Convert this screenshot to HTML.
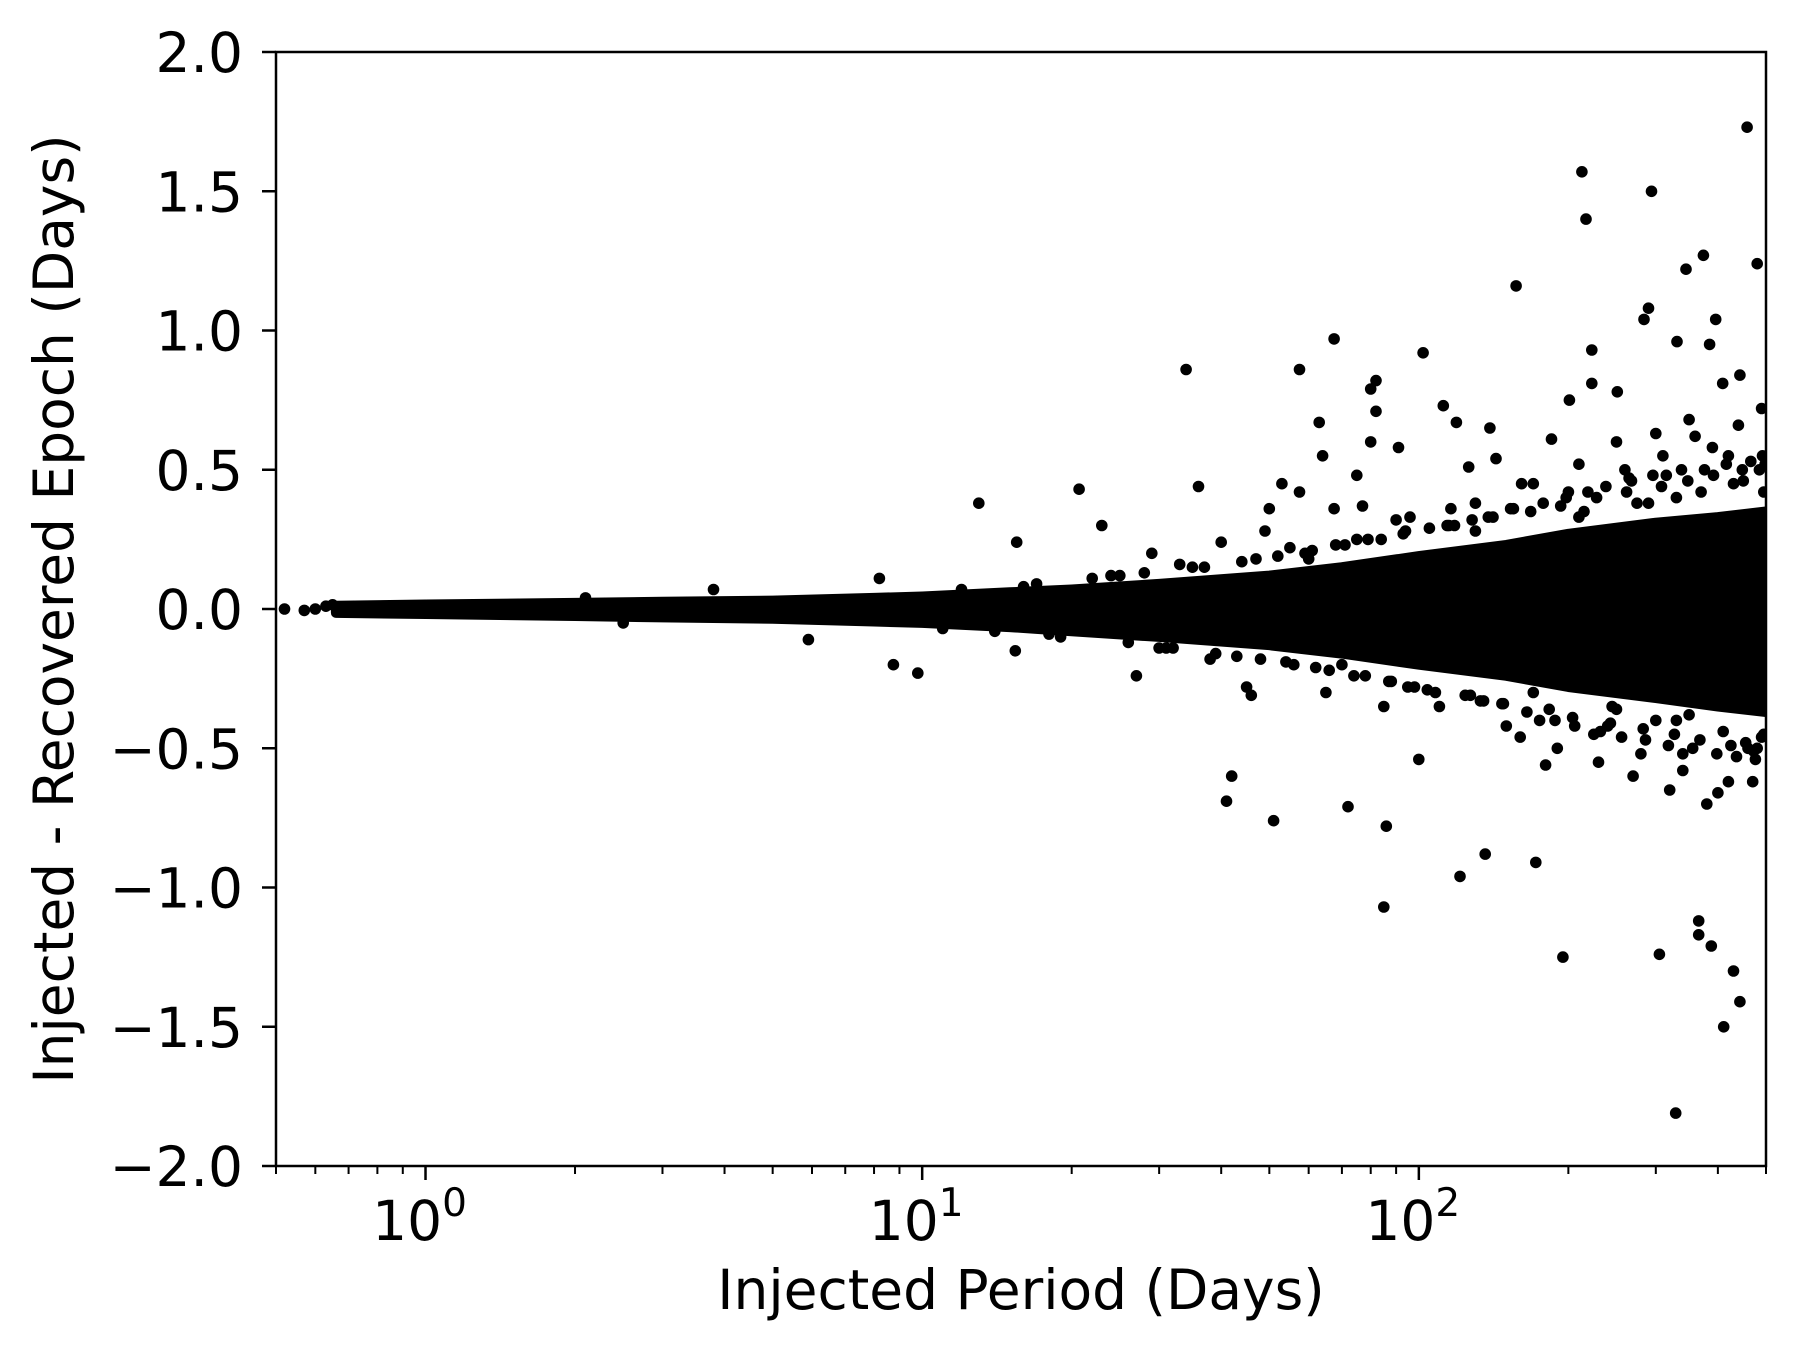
<!DOCTYPE html>
<html><head><meta charset="utf-8">
<style>
html,body{margin:0;padding:0;background:#fff;}
svg{display:block;font-family:"DejaVu Sans","Liberation Sans",sans-serif;}
</style></head>
<body>
<svg id="chart" width="1795" height="1352" viewBox="0 0 1795 1352" xmlns="http://www.w3.org/2000/svg">
<defs><clipPath id="clip"><rect x="276" y="52" width="1490" height="1114"/></clipPath></defs>
<rect width="1795" height="1352" fill="#fff"/>
<g id="band" clip-path="url(#clip)"></g>
<g id="pts" clip-path="url(#clip)"></g>
<g id="axes"></g>
<text x="1021" y="1309" font-size="55" text-anchor="middle">Injected Period (Days)</text>
<text transform="translate(73,609) rotate(-90)" font-size="55" text-anchor="middle">Injected - Recovered Epoch (Days)</text>
</svg>
<script>
const xTicks = [1, 10, 100];
const xTickExp = ["0", "1", "2"];
const yTicks = [2.0, 1.5, 1.0, 0.5, 0.0, -0.5, -1.0, -1.5, -2.0];
const yTickLabels = ["2.0", "1.5", "1.0", "0.5", "0.0", "\u22120.5", "\u22121.0", "\u22121.5", "\u22122.0"];
const bandP = [0.66, 1, 2, 3, 5, 8, 10, 15, 20, 30, 50, 70, 100, 150, 200, 300, 400, 500];
const bandUpper = [0.012, 0.016, 0.022, 0.026, 0.03, 0.04, 0.045, 0.06, 0.07, 0.09, 0.12, 0.15, 0.19, 0.23, 0.27, 0.31, 0.33, 0.35];
const bandLower = [-0.014, -0.018, -0.025, -0.03, -0.035, -0.045, -0.05, -0.065, -0.08, -0.1, -0.13, -0.16, -0.2, -0.24, -0.28, -0.32, -0.35, -0.37];
const ptP = [0.52,0.57,0.6,0.63,0.65,0.9,1.6,2.1,2.5,3.8,5.9,8.2,8.75,9.8,13,15.4,15.5,19.2,20.7,23,27,29,34,36,40,41,42,46,49,50,51,53,57.5,57.5,63,64,67.5,67.5,72,75,77,80,80,82,82,85,86,91,96,100,102,112,116,119,121,126,136,139,143,157,161,172,185,195,201,213,217,223,223,251,284,290,294,305,329,331,345,366,366,374,385,388,396,409,411,430,443,443,458,480,
90,110,130,150,170,190,210,230,250,270,300,320,350,380,420,460,490,
95,115,135,155,175,200,225,260,280,310,340,360,400,440,470,495,
45,55,65,75,85,60,70,33,38,25,31,
160,180,240,265,330,350,430,455,485,215,245,275,300,315,340,390,420,480,495,
130,170,210,250,290,330,370,410,450,490,
12,14,17,19,22,26,28,32,35,39,44,48,52,56,61,66,71,78,84,88,93,98,105,108,114,124,128,133,141,147,153,165,178,188,198,206,219,232,238,256,268,286,296,318,338,356,376,398,416,436,466,476,492,
11,16,18,24,30,37,43,47,54,59,62,68,74,79,87,94,104,118,127,138,148,168,183,193,204,228,243,262,283,308,327,348,368,392,425,448,472,498];
const ptV = [0.0,-0.005,0.0,0.01,0.015,0.0,0.0,0.04,-0.05,0.07,-0.11,0.11,-0.2,-0.23,0.38,-0.15,0.24,-0.07,0.43,0.3,-0.24,0.2,0.86,0.44,0.24,-0.69,-0.6,-0.31,0.28,0.36,-0.76,0.45,0.86,0.42,0.67,0.55,0.97,0.36,-0.71,0.48,0.37,0.79,0.6,0.82,0.71,-1.07,-0.78,0.58,0.33,-0.54,0.92,0.73,0.36,0.67,-0.96,0.51,-0.88,0.65,0.54,1.16,0.45,-0.91,0.61,-1.25,0.75,1.57,1.4,0.93,0.81,0.78,1.04,1.08,1.5,-1.24,-1.81,0.96,1.22,-1.12,-1.17,1.27,0.95,-1.21,1.04,0.81,-1.5,-1.3,0.84,-1.41,1.73,1.24,
0.32,-0.35,0.38,-0.42,0.45,-0.5,0.52,-0.55,0.6,-0.6,0.63,-0.65,0.68,-0.7,0.55,-0.5,0.72,
-0.28,0.3,-0.33,0.36,-0.4,0.42,-0.45,0.5,-0.52,0.55,-0.58,0.62,-0.66,0.66,-0.62,-0.45,
-0.28,0.22,-0.3,0.25,-0.35,0.18,-0.2,0.16,-0.18,0.12,-0.14,
-0.46,-0.56,-0.42,0.47,0.4,-0.38,0.45,-0.48,0.5,0.35,-0.35,0.38,-0.4,0.48,-0.52,0.58,-0.62,-0.5,0.42,
0.28,-0.3,0.33,-0.36,0.38,-0.4,0.42,-0.44,0.46,-0.46,
0.07,-0.08,0.09,-0.1,0.11,-0.12,0.13,-0.14,0.15,-0.16,0.17,-0.18,0.19,-0.2,0.21,-0.22,0.23,-0.24,0.25,-0.26,0.27,-0.28,0.29,-0.3,0.3,-0.31,0.32,-0.33,0.33,-0.34,0.36,-0.37,0.38,-0.4,0.4,-0.42,0.42,-0.44,0.44,-0.46,0.46,-0.47,0.48,-0.49,0.5,-0.5,0.5,-0.52,0.52,-0.53,0.53,-0.54,0.55,
-0.07,0.08,-0.09,0.12,-0.14,0.15,-0.17,0.18,-0.19,0.2,-0.21,0.23,-0.24,0.25,-0.26,0.28,-0.29,0.3,-0.31,0.33,-0.34,0.35,-0.36,0.37,-0.39,0.4,-0.41,0.42,-0.43,0.44,-0.45,0.46,-0.47,0.48,-0.49,0.5,-0.51,0.52];
const L=276,R=1766,T=52,B=1166,xmin=0.5,xmax=500,ymin=-2,ymax=2;
function sx(p){return L+(Math.log10(p)-Math.log10(xmin))/(Math.log10(xmax)-Math.log10(xmin))*(R-L);}
function sy(v){return B-(v-ymin)/(ymax-ymin)*(B-T);}
const NS="http://www.w3.org/2000/svg";
function mk(tag,attrs,parent){const e=document.createElementNS(NS,tag);for(const k in attrs)e.setAttribute(k,attrs[k]);parent.appendChild(e);return e;}
const band=document.getElementById('band');
let d='';
bandP.forEach((p,i)=>{d+=(i?'L':'M')+sx(p).toFixed(1)+','+sy(bandUpper[i]).toFixed(1);});
for(let i=bandP.length-1;i>=0;i--)d+='L'+sx(bandP[i]).toFixed(1)+','+sy(bandLower[i]).toFixed(1);
d+='Z';
const bp=mk('path',{d:d,fill:'#000',stroke:'#000','stroke-width':10,'stroke-linejoin':'round'},band);


const pts=document.getElementById('pts');
ptP.forEach((p,i)=>{
  const c=mk('circle',{cx:sx(p).toFixed(1),cy:sy(ptV[i]).toFixed(1),r:5.8,fill:'#000'},pts);
  
  
});
const ax=document.getElementById('axes');
const fr=mk('rect',{x:L,y:T,width:R-L,height:B-T,fill:'none',stroke:'#000','stroke-width':2.5},ax);


xTicks.forEach((t,i)=>{
  const x=sx(t);
  const tk=mk('line',{x1:x,x2:x,y1:B,y2:B+14,stroke:'#000','stroke-width':2.5},ax);
  
  
  const tx=mk('text',{x:x-6,y:1240,'font-size':55,'text-anchor':'middle'},ax);
  
  
  tx.textContent='10';
  const ts=mk('tspan',{dy:-24,'font-size':39},tx);
  ts.textContent=xTickExp[i];
});
for(let dec=-1;dec<=2;dec++){for(let m=2;m<=9;m++){const p=m*Math.pow(10,dec);if(p<xmin||p>xmax)continue;
  const x=sx(p);
  const mt=mk('line',{x1:x,x2:x,y1:B,y2:B+8,stroke:'#000','stroke-width':2},ax);
  
  
}}
yTicks.forEach((t,i)=>{
  const y=sy(t);
  const tk=mk('line',{x1:L-14,x2:L,y1:y,y2:y,stroke:'#000','stroke-width':2.5},ax);
  
  
  const tx=mk('text',{x:243,y:y+20,'font-size':55,'text-anchor':'end'},ax);
  
  
  tx.textContent=yTickLabels[i];
});
</script>
</body></html>
